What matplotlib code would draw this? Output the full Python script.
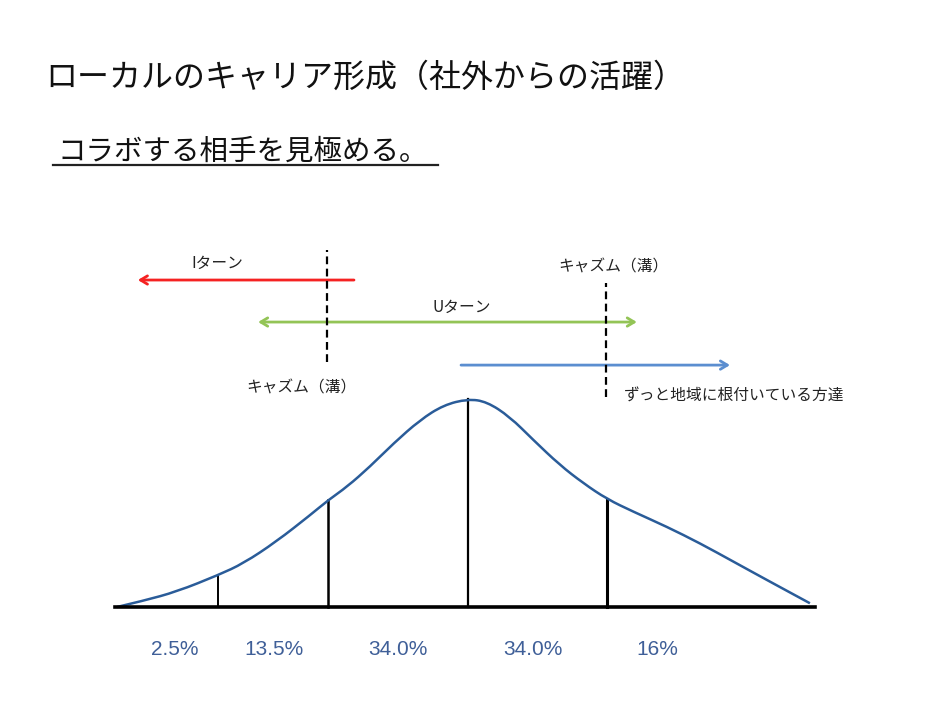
import matplotlib
matplotlib.use("Agg")
import matplotlib.pyplot as plt
from matplotlib.lines import Line2D
from matplotlib.path import Path
from matplotlib.patches import PathPatch

plt.rcParams['font.family'] = ['Noto Sans CJK JP', 'DejaVu Sans']

# ---------------- data ----------------
title = "ローカルのキャリア形成（社外からの活躍）"
subtitle = "コラボする相手を見極める。"

# distribution curve (position 0-100, relative density 0-100)
curve_x = [0.0, 3.8, 8.6, 14.6, 18.2, 22.9, 27.8, 30.4, 33.1, 36.4, 39.8, 43.6,
           47.0, 50.5, 53.2, 56.5, 59.9, 63.7, 67.1, 70.5, 74.3, 79.1, 83.9,
           88.7, 93.5, 99.7]
curve_y = [0.0, 3.0, 7.4, 15.4, 21.0, 31.4, 44.2, 51.4, 57.8, 67.5, 78.7, 89.9,
           97.1, 100.0, 98.7, 91.5, 80.3, 68.3, 59.5, 51.9, 45.8, 38.6, 30.6,
           21.8, 13.0, 1.8]

# segment boundaries and their heights on the curve
divider_x = [14.5, 30.4, 50.5, 70.5]
divider_top = [15.4, 51.4, 100.0, 51.4]
divider_lw = [1.4, 1.8, 1.6, 2.2]

# segment share labels
share_labels = ["2.5%", "13.5%", "34.0%", "34.0%", "16%"]
share_x = [8.3, 22.6, 40.4, 59.9, 77.8]

# chasm (dashed) lines
chasm_x = [30.2, 70.4]
chasm_y0 = [117.8, 101.0]
chasm_y1 = [171.6, 155.8]

# migration arrows
arrow_names = ["Iターン", "Uターン", "ずっと地域に根付いている方達"]
arrow_start = [34.1, 20.3, 49.5]
arrow_end = [3.0, 74.8, 88.2]
arrow_y = [157.2, 137.0, 116.3]
arrow_colors = ["#F52222", "#93C456", "#5B8ED0"]
arrow_styles = ["->", "<->", "->"]

# ---------------- figure ----------------
W, H = 941, 704
fig = plt.figure(figsize=(W / 100, H / 100), dpi=100)
fig.patch.set_facecolor("white")

ax = fig.add_axes([0, 0, 1, 1])
ax.set_xlim(-117 / 6.95, (W - 117) / 6.95)
ax.set_ylim((607 - H) / 2.08, 607 / 2.08)
ax.axis("off")

# title & subtitle (figure coordinates)
fig.text(45 / W, 1 - 78 / H, title, fontsize=23, ha="left", va="center",
         color="#111111")
fig.text(57 / W, 1 - 152 / H, subtitle, fontsize=20.5, ha="left", va="center",
         color="#111111")
fig.add_artist(Line2D([53 / W, 438 / W], [1 - 165 / H, 1 - 165 / H],
                      color="#222222", lw=1.6, transform=fig.transFigure))

# smooth curve: quadratic Bezier through midpoints of the read points
pts = list(zip(curve_x, curve_y))
verts = [pts[0]]
codes = [Path.MOVETO]
for i in range(1, len(pts) - 1):
    mid = ((pts[i][0] + pts[i + 1][0]) / 2, (pts[i][1] + pts[i + 1][1]) / 2)
    verts += [pts[i], mid]
    codes += [Path.CURVE3, Path.CURVE3]
verts.append(pts[-1])
codes.append(Path.LINETO)
ax.add_patch(PathPatch(Path(verts, codes), fill=False, edgecolor="#2A5C99",
                       lw=1.8, zorder=3))

# baseline
ax.plot([-0.3, 100.4], [0, 0], color="black", lw=2.6, zorder=4)

# dividers
for x, top, lw in zip(divider_x, divider_top, divider_lw):
    ax.plot([x, x], [0, top], color="black", lw=lw, zorder=2)

# share labels
for lab, x in zip(share_labels, share_x):
    ax.text(x, -20.2, lab, fontsize=15, ha="center", va="center",
            color="#3F5F98", family=["Liberation Sans", "DejaVu Sans"])

# chasm dashed lines
for x, y0, y1 in zip(chasm_x, chasm_y0, chasm_y1):
    ax.plot([x, x], [y0, y1], color="black", lw=1.6, dashes=(3.5, 2),
            zorder=5)

# arrows
for s, e, y, c, st in zip(arrow_start, arrow_end, arrow_y, arrow_colors,
                          arrow_styles):
    ax.annotate("", xy=(e, y), xytext=(s, y),
                arrowprops=dict(arrowstyle=st + ",head_length=0.5,head_width=0.3",
                                color=c, lw=2.0, shrinkA=0, shrinkB=0))

# labels
txt_kw = dict(fontsize=11.3, color="#222222", va="center")
ax.text(14.4, 165.4, arrow_names[0], ha="center", **txt_kw)
ax.text(49.6, 144.2, arrow_names[1], ha="center", **txt_kw)
ax.text(72.9, 101.4, arrow_names[2], ha="left", **txt_kw)
ax.text(26.6, 105.3, "キャズム（溝）", ha="center", **txt_kw)
ax.text(71.4, 163.5, "キャズム（溝）", ha="center", **txt_kw)

fig.savefig("out.png", dpi=100, facecolor="white")
